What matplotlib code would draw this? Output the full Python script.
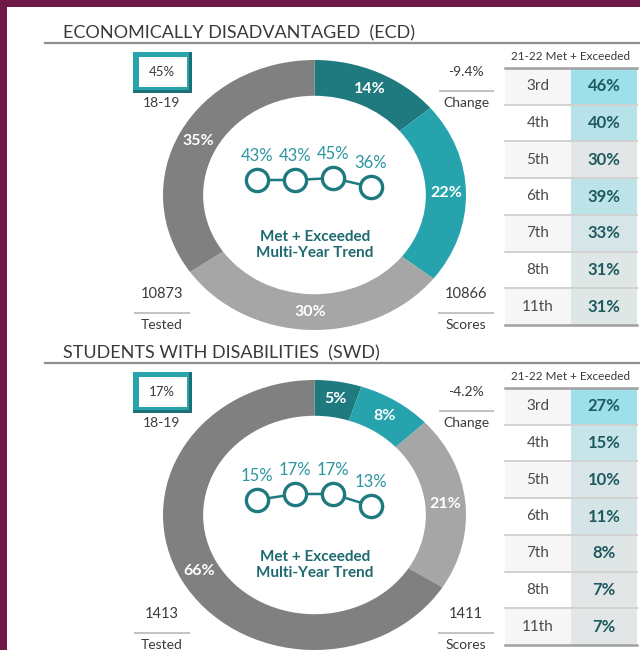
import matplotlib.pyplot as plt
from matplotlib.patches import Rectangle
from matplotlib.colors import LinearSegmentedColormap, Normalize

plt.rcParams['font.family'] = ['Lato', 'DejaVu Sans']

# ---- data ----
grades = ["3rd", "4th", "5th", "6th", "7th", "8th", "11th"]

ecd_title = "ECONOMICALLY DISADVANTAGED  (ECD)"
ecd_ring = [14, 22, 30, 35]
ecd_trend = [43, 43, 45, 36]
ecd_base = 45
ecd_base_year = "18-19"
ecd_change = -9.4
ecd_tested = 10873
ecd_scores = 10866
ecd_grade_pct = [46, 40, 30, 39, 33, 31, 31]

swd_title = "STUDENTS WITH DISABILITIES  (SWD)"
swd_ring = [5, 8, 21, 66]
swd_trend = [15, 17, 17, 13]
swd_base = 17
swd_base_year = "18-19"
swd_change = -4.2
swd_tested = 1413
swd_scores = 1411
swd_grade_pct = [27, 15, 10, 11, 8, 7, 7]

header = "21-22 Met + Exceeded"

# ---- style ----
W, H = 640, 650
ring_colors = ['#1f7a80', '#27a3ad', '#a6a6a6', '#808080']
dark_teal = '#1f7a80'
txt_gray = '#3a3a3a'
cell_cmap = LinearSegmentedColormap.from_list('cells', ['#e3e6e6', '#9ee0ea'])

fig = plt.figure(figsize=(W / 100, H / 100), dpi=100)
ax = fig.add_axes([0, 0, 1, 1])
ax.set_xlim(0, W)
ax.set_ylim(H, 0)
ax.axis('off')


def px_axes(x0, y0, x1, y1):
    return fig.add_axes([x0 / W, 1 - y1 / H, (x1 - x0) / W, (y1 - y0) / H])


def panel(off, title, ring, trend, trend_ylim, base, base_year, change,
          tested, scores, grade_pct):
    # title + underline
    ax.text(63, 33 + off, title, fontsize=13, color=txt_gray, va='center')
    ax.plot([45, 640], [43 + off] * 2, color='#8f8f8f', lw=1.6)

    # base-year box
    ax.add_patch(Rectangle((133, 52 + off), 59, 41, fc='#1c7178', ec='none'))
    ax.add_patch(Rectangle((133, 52 + off), 56, 38, fc='#29a4ad', ec='none'))
    ax.add_patch(Rectangle((139, 57 + off), 48, 30, fc='white', ec='none'))
    ax.text(162, 72 + off, f"{base}%", fontsize=9.5, color=txt_gray,
            ha='center', va='center')
    ax.text(162, 103 + off, base_year, fontsize=10, color=txt_gray,
            ha='center', va='center')

    # side figures
    for x, top, bottom in [(162, f"{tested}", "Tested"),
                           (466, f"{scores}", "Scores")]:
        ax.text(x, 294 + off, top, fontsize=10.5, color=txt_gray,
                ha='center', va='center')
        ax.plot([x - 27, x + 27], [313 + off] * 2, color='#c4c4c4', lw=1.5)
        ax.text(x, 325 + off, bottom, fontsize=10, color=txt_gray,
                ha='center', va='center')
    ax.text(466, 72 + off, f"{change}%", fontsize=10, color=txt_gray,
            ha='center', va='center')
    ax.plot([440, 493], [91 + off] * 2, color='#c4c4c4', lw=1.5)
    ax.text(466, 103 + off, "Change", fontsize=10, color=txt_gray,
            ha='center', va='center')

    # table
    ax.text(571, 57 + off, header, fontsize=8.5, color=txt_gray,
            ha='center', va='center')
    rh = (325 - 68) / len(grades)
    norm = Normalize(min(grade_pct), max(grade_pct))
    for i, (g, v) in enumerate(zip(grades, grade_pct)):
        y0 = 68 + off + i * rh
        ax.add_patch(Rectangle((505, y0), 66, rh,
                               fc='#f6f6f6' if i % 2 == 0 else 'white', ec='none'))
        ax.add_patch(Rectangle((571, y0), 66, rh, fc=cell_cmap(norm(v)), ec='none'))
        ax.text(538, y0 + rh / 2, g, fontsize=11, color='#4a4a4a',
                ha='center', va='center')
        ax.text(604, y0 + rh / 2, f"{v}%", fontsize=12, color='#1d5a60',
                fontweight='bold', ha='center', va='center')
        if i < len(grades) - 1:
            ax.plot([505, 637], [y0 + rh] * 2, color='#d2d2d2', lw=1.4)
    ax.plot([505, 637], [68 + off] * 2, color='#a0a0a0', lw=1.8)
    ax.plot([505, 637], [325 + off] * 2, color='#a0a0a0', lw=1.8)

    # donut
    dax = px_axes(163, 60 + off, 466, 330 + off)
    wedges, texts = dax.pie(ring, colors=ring_colors, startangle=90,
                            counterclock=False,
                            labels=[f"{v}%" for v in ring],
                            labeldistance=0.868,
                            wedgeprops=dict(width=0.265, linewidth=0),
                            textprops=dict(color='white', fontsize=11.5,
                                           fontweight='bold'))
    for t in texts:
        t.set_ha('center')
        t.set_va('center')
    dax.set_aspect('auto')
    dax.set_xlim(-1, 1)
    dax.set_ylim(-1, 1)

    # trend line
    tax = px_axes(238, 140 + off, 390, 200 + off)
    tax.patch.set_alpha(0)
    tax.axis('off')
    xs = range(len(trend))
    tax.plot(xs, trend, color=dark_teal, lw=1.8, marker='o', markersize=16,
             markerfacecolor='white', markeredgecolor=dark_teal,
             markeredgewidth=2.4)
    tax.set_xlim(-0.5, len(trend) - 0.5)
    tax.set_ylim(*trend_ylim)
    for x, v in zip(xs, trend):
        tax.annotate(f"{v}%", (x, v), xytext=(0, 24), textcoords='offset pixels',
                     ha='center', va='center', fontsize=12, color='#2a96a0')
    ax.text(315, 245 + off, "Met + Exceeded\nMulti-Year Trend", fontsize=11,
            color='#1f6a70', fontweight='bold', ha='center', va='center',
            linespacing=1.2)


# maroon frame
ax.add_patch(Rectangle((0, 0), 7, H, fc='#6e1946', ec='none'))
ax.add_patch(Rectangle((0, 0), W, 7, fc='#6e1946', ec='none'))

panel(0, ecd_title, ecd_ring, ecd_trend, (23, 83), ecd_base, ecd_base_year,
      ecd_change, ecd_tested, ecd_scores, ecd_grade_pct)
panel(320, swd_title, swd_ring, swd_trend, (8.33, 28.33), swd_base,
      swd_base_year, swd_change, swd_tested, swd_scores, swd_grade_pct)

fig.savefig('out.png', dpi=100, facecolor='white')
